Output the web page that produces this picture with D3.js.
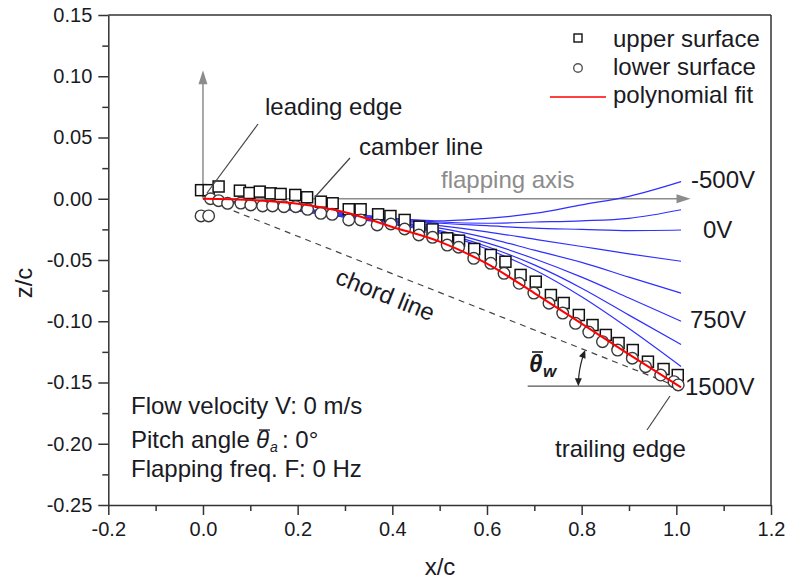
<!DOCTYPE html>
<html>
<head>
<meta charset="utf-8">
<script src="https://cdn.jsdelivr.net/npm/d3@7"></script>
<style>
  body { margin: 0; background: #fff; }
  svg text { font-family: "Liberation Sans", Arial, Helvetica, sans-serif; }
</style>
</head>
<body>
<svg id="chart" width="785" height="579"></svg>
<script>
// ---- axis ticks ----
const xTicks = [-0.2, 0.0, 0.2, 0.4, 0.6, 0.8, 1.0, 1.2];
const xTickLabels = ["-0.2", "0.0", "0.2", "0.4", "0.6", "0.8", "1.0", "1.2"];
const xMinor = [-0.1, 0.1, 0.3, 0.5, 0.7, 0.9, 1.1];
const yTicks = [0.15, 0.10, 0.05, 0.00, -0.05, -0.10, -0.15, -0.20, -0.25];
const yTickLabels = ["0.15", "0.10", "0.05", "0.00", "-0.05", "-0.10", "-0.15", "-0.20", "-0.25"];
const yMinor = [0.125, 0.075, 0.025, -0.025, -0.075, -0.125, -0.175, -0.225];

// ---- measured wing surface points ----
const upperX = [-0.004, 0.012, 0.033, 0.078, 0.098, 0.12, 0.143, 0.164, 0.195, 0.22, 0.249, 0.274,
  0.308, 0.333, 0.37, 0.396, 0.426, 0.457, 0.485, 0.516, 0.541, 0.573, 0.608, 0.639, 0.671, 0.703,
  0.735, 0.762, 0.794, 0.823, 0.851, 0.878, 0.908, 0.94, 0.973, 1.003];
const upperZ = [0.007, 0.007, 0.010, 0.0066, 0.0047, 0.0058, 0.0044, 0.0039, 0.0031, 0.0012, -0.0024, -0.0037,
  -0.0086, -0.0086, -0.0127, -0.0141, -0.0173, -0.0228, -0.025, -0.0323, -0.0342, -0.041, -0.0459, -0.0514,
  -0.0622, -0.0677, -0.0786, -0.0851, -0.0949, -0.1031, -0.1112, -0.1178, -0.1235, -0.133, -0.139, -0.1439];

const lowerX = [-0.004, 0.012, 0.016, 0.033, 0.052, 0.08, 0.101, 0.126, 0.147, 0.171, 0.196, 0.221,
  0.249, 0.273, 0.308, 0.333, 0.368, 0.397, 0.426, 0.456, 0.485, 0.516, 0.54, 0.572, 0.608, 0.636,
  0.668, 0.699, 0.731, 0.76, 0.787, 0.815, 0.844, 0.876, 0.907, 0.935, 0.967, 0.995, 1.004];
const lowerZ = [-0.014, -0.014, 0.000, -0.0016, -0.0037, -0.0035, -0.0051, -0.0059, -0.0059, -0.0065, -0.0065, -0.0086,
  -0.0119, -0.0127, -0.0173, -0.0173, -0.0214, -0.0206, -0.0247, -0.0296, -0.0315, -0.0378, -0.0396, -0.0486,
  -0.0527, -0.0609, -0.069, -0.077, -0.0853, -0.0933, -0.1017, -0.1088, -0.1167, -0.1235, -0.1302, -0.1371,
  -0.1439, -0.1493, -0.152];

// ---- polynomial fit of the camber line (1500 V) ----
const fitX = [0, 0.1, 0.2, 0.3, 0.4, 0.5, 0.6, 0.7, 0.8, 0.9, 1.01];
const fitZ = [0, -0.001, -0.004, -0.011, -0.023, -0.035, -0.053, -0.077, -0.102, -0.127, -0.154];

// ---- camber lines at the other actuation voltages ----
const voltages = [-500, -250, 0, 250, 500, 750, 1000, 1250];
const deflectX = [0, 0.1, 0.2, 0.3, 0.4, 0.5, 0.6, 0.7, 0.8, 0.9, 1.01];
const deflectZ = [
  [0, -0.004, -0.008, -0.012, -0.016, -0.018, -0.016, -0.012, -0.005, 0.002, 0.014],
  [0, -0.004, -0.008, -0.012, -0.016, -0.019, -0.020, -0.019, -0.018, -0.016, -0.009],
  [0, -0.004, -0.009, -0.013, -0.017, -0.020, -0.022, -0.024, -0.025, -0.026, -0.0255],
  [0, -0.004, -0.009, -0.013, -0.018, -0.022, -0.027, -0.033, -0.039, -0.045, -0.051],
  [0, -0.004, -0.009, -0.014, -0.019, -0.024, -0.032, -0.042, -0.052, -0.064, -0.077],
  [0, -0.004, -0.009, -0.014, -0.019, -0.026, -0.036, -0.049, -0.064, -0.081, -0.100],
  [0, -0.005, -0.010, -0.015, -0.020, -0.027, -0.039, -0.054, -0.073, -0.095, -0.119],
  [0, -0.005, -0.010, -0.015, -0.021, -0.028, -0.041, -0.058, -0.080, -0.106, -0.137]
];
const voltageLabels = ["-500V", "0V", "750V", "1500V"];
const trailingEdge = [1.0, -0.153];

const svg = d3.select("#chart");
const x = d3.scaleLinear().domain([-0.2, 1.2]).range([108.3, 771]);
const y = d3.scaleLinear().domain([-0.25, 0.15]).range([505, 15]);

const axisColor = "#333";
const textColor = "#1a1a24";
const annColor = "#444";
const grey = "#8c8c8c";
const FS = 24;     // annotation font size
const TFS = 20;    // tick label font size

// ---- axes ----
function styleAxis(g, fs) {
  g.selectAll("path.domain").attr("stroke", axisColor).attr("stroke-width", 1.5);
  g.selectAll(".tick line").attr("stroke", axisColor).attr("stroke-width", 1.5);
  g.selectAll("text").attr("fill", textColor).attr("font-size", fs)
    .attr("font-family", '"Liberation Sans", Arial, sans-serif');
}
const gx = svg.append("g").attr("transform", `translate(0,${y(-0.25)})`)
  .call(d3.axisBottom(x).tickValues(xTicks).tickFormat((d, i) => xTickLabels[i])
    .tickSize(10).tickSizeOuter(0).tickPadding(7));
styleAxis(gx, TFS);
const gxm = svg.append("g").attr("transform", `translate(0,${y(-0.25)})`)
  .call(d3.axisBottom(x).tickValues(xMinor).tickFormat("").tickSize(6).tickSizeOuter(0));
gxm.select("path.domain").remove();
styleAxis(gxm, TFS);

const gy = svg.append("g").attr("transform", `translate(${x(-0.2)},0)`)
  .call(d3.axisLeft(y).tickValues(yTicks).tickFormat((d, i) => yTickLabels[i])
    .tickSize(10).tickSizeOuter(0).tickPadding(6));
styleAxis(gy, TFS);
const gym = svg.append("g").attr("transform", `translate(${x(-0.2)},0)`)
  .call(d3.axisLeft(y).tickValues(yMinor).tickFormat("").tickSize(6).tickSizeOuter(0));
gym.select("path.domain").remove();
styleAxis(gym, TFS);

// frame
svg.append("line").attr("x1", x(-0.2)).attr("x2", x(1.2)).attr("y1", y(0.15)).attr("y2", y(0.15))
  .attr("stroke", axisColor).attr("stroke-width", 1.5);
svg.append("line").attr("x1", x(1.2)).attr("x2", x(1.2)).attr("y1", y(0.15)).attr("y2", y(-0.25))
  .attr("stroke", axisColor).attr("stroke-width", 1.5);

// axis titles
svg.append("text").attr("x", 440).attr("y", 575).attr("text-anchor", "middle")
  .attr("font-size", FS).attr("fill", textColor).text("x/c");
svg.append("text").attr("transform", "translate(32,283) rotate(-90)").attr("text-anchor", "middle")
  .attr("font-size", FS).attr("fill", textColor).text("z/c");

// ---- reference axes of the wing (grey arrows) ----
function arrowHead(tip, dir, len, half, color) {
  const [dx, dy] = dir;
  const bx = tip[0] - dx * len, by = tip[1] - dy * len;
  const px = -dy * half, py = dx * half;
  svg.append("path")
    .attr("d", `M${tip[0]},${tip[1]}L${bx + px},${by + py}L${bx - px},${by - py}Z`)
    .attr("fill", color);
}
// flapping axis
svg.append("line").attr("x1", x(0)).attr("y1", y(0)).attr("x2", x(1.03) - 10).attr("y2", y(0))
  .attr("stroke", grey).attr("stroke-width", 1.5);
arrowHead([x(1.03), y(0)], [1, 0], 14, 4.5, grey);
// vertical axis
svg.append("line").attr("x1", x(0)).attr("y1", y(0)).attr("x2", x(0)).attr("y2", y(0.105) + 10)
  .attr("stroke", grey).attr("stroke-width", 1.5);
arrowHead([x(0), y(0.105)], [0, -1], 14, 4.5, grey);

// chord line
svg.append("line").attr("x1", x(0)).attr("y1", y(0)).attr("x2", x(trailingEdge[0])).attr("y2", y(trailingEdge[1]))
  .attr("stroke", annColor).attr("stroke-width", 1.2).attr("stroke-dasharray", "6,5");

// horizontal reference at trailing edge
svg.append("line").attr("x1", x(0.686)).attr("y1", y(trailingEdge[1]))
  .attr("x2", x(trailingEdge[0])).attr("y2", y(trailingEdge[1]))
  .attr("stroke", "#555").attr("stroke-width", 1.2);

// ---- deflected camber lines ----
const line = d3.line().x(d => x(d[0])).y(d => y(d[1])).curve(d3.curveMonotoneX);
svg.append("g").selectAll("path").data(deflectZ).join("path")
  .attr("d", zs => line(deflectX.map((v, i) => [v, zs[i]])))
  .attr("fill", "none").attr("stroke", "#2f2fff").attr("stroke-width", 1.2);

// ---- surface markers ----
const sq = 11;
svg.append("g").selectAll("rect").data(upperX.map((v, i) => [v, upperZ[i]])).join("rect")
  .attr("x", d => x(d[0]) - sq / 2).attr("y", d => y(d[1]) - sq / 2)
  .attr("width", sq).attr("height", sq)
  .attr("fill", "#fff").attr("stroke", "#111").attr("stroke-width", 1.5);
svg.append("g").selectAll("circle").data(lowerX.map((v, i) => [v, lowerZ[i]])).join("circle")
  .attr("cx", d => x(d[0])).attr("cy", d => y(d[1])).attr("r", 5.8)
  .attr("fill", "#fff").attr("stroke", "#3a3a3a").attr("stroke-width", 1.4);

// polynomial fit
svg.append("path").attr("d", line(fitX.map((v, i) => [v, fitZ[i]])))
  .attr("fill", "none").attr("stroke", "#ff0000").attr("stroke-width", 2);

// ---- wing angle arc ----
const cx = x(trailingEdge[0]), cy = y(trailingEdge[1]);
const chordAng = Math.atan2(y(0) - cy, x(0) - cx);   // towards leading edge
const r = 98;
const arcPts = d3.range(0, 31).map(k => {
  const a = Math.PI + (chordAng + 2 * Math.PI - Math.PI) * k / 30;
  return [cx + r * Math.cos(a), cy + r * Math.sin(a)];
});
svg.append("path").attr("d", d3.line()(arcPts.slice(2, 29))).attr("fill", "none")
  .attr("stroke", "#222").attr("stroke-width", 1.2);
{
  const aEnd = chordAng + 2 * Math.PI;
  const tipU = [cx + r * Math.cos(aEnd), cy + r * Math.sin(aEnd)];
  arrowHead(tipU, [-Math.sin(aEnd), Math.cos(aEnd)], 8, 3.5, "#222");
  const tipL = [cx - r, cy];
  arrowHead(tipL, [0, 1], 8, 3.5, "#222");
}
// θw label
svg.append("text").attr("x", 529).attr("y", 372).attr("font-size", 24)
  .attr("font-family", '"Liberation Serif", "Times New Roman", serif')
  .attr("font-style", "italic").attr("font-weight", "bold").attr("fill", "#1a1a1a").text("θ");
svg.append("text").attr("x", 543).attr("y", 377).attr("font-size", 17)
  .attr("font-family", '"Liberation Serif", "Times New Roman", serif')
  .attr("font-style", "italic").attr("font-weight", "bold").attr("fill", "#1a1a1a").text("w");
svg.append("line").attr("x1", 532).attr("x2", 543).attr("y1", 352).attr("y2", 352)
  .attr("stroke", "#1a1a1a").attr("stroke-width", 1.6);

// ---- leader lines ----
const leaders = [[258, 124, 207, 193], [350, 158, 315, 197], [670, 396, 647, 430]];
svg.append("g").selectAll("line").data(leaders).join("line")
  .attr("x1", d => d[0]).attr("y1", d => d[1]).attr("x2", d => d[2]).attr("y2", d => d[3])
  .attr("stroke", annColor).attr("stroke-width", 1.2);

// ---- annotations ----
const ann = (t, px, py, color) => svg.append("text").attr("x", px).attr("y", py)
  .attr("font-size", FS).attr("fill", color || textColor).text(t);
ann("leading edge", 265, 115);
ann("camber line", 359, 155);
ann("flapping axis", 441, 188, grey);
ann("trailing edge", 555, 457);
svg.append("text").attr("transform", "translate(334,283) rotate(21.7)")
  .attr("font-size", FS).attr("fill", textColor).text("chord line");

const vPos = [[691, 188], [703, 238], [690, 328], [685, 395]];
voltageLabels.forEach((t, i) => ann(t, vPos[i][0], vPos[i][1]));

// test conditions
ann("Flow velocity V: 0 m/s", 131, 414);
ann("Pitch angle", 131, 448);
svg.append("text").attr("x", 256).attr("y", 448).attr("font-size", 24)
  .attr("font-family", '"Liberation Serif", "Times New Roman", serif')
  .attr("font-style", "italic").attr("fill", textColor).text("θ");
svg.append("line").attr("x1", 259).attr("x2", 270).attr("y1", 430).attr("y2", 430)
  .attr("stroke", textColor).attr("stroke-width", 1.3);
svg.append("text").attr("x", 270).attr("y", 452).attr("font-size", 14)
  .attr("font-family", '"Liberation Serif", "Times New Roman", serif')
  .attr("font-style", "italic").attr("fill", textColor).text("a");
ann(": 0°", 282, 448);
ann("Flapping freq. F: 0 Hz", 131, 477);

// ---- legend ----
svg.append("rect").attr("x", 574).attr("y", 34).attr("width", 8).attr("height", 8)
  .attr("fill", "#fff").attr("stroke", "#111").attr("stroke-width", 1.4);
svg.append("circle").attr("cx", 578).attr("cy", 68).attr("r", 4.3)
  .attr("fill", "#fff").attr("stroke", "#555").attr("stroke-width", 1.4);
svg.append("line").attr("x1", 550).attr("x2", 606).attr("y1", 97).attr("y2", 97)
  .attr("stroke", "#ff0000").attr("stroke-width", 1.5);
ann("upper surface", 613, 46.5);
ann("lower surface", 613, 74.5);
ann("polynomial fit", 613, 103);
</script>
</body>
</html>
